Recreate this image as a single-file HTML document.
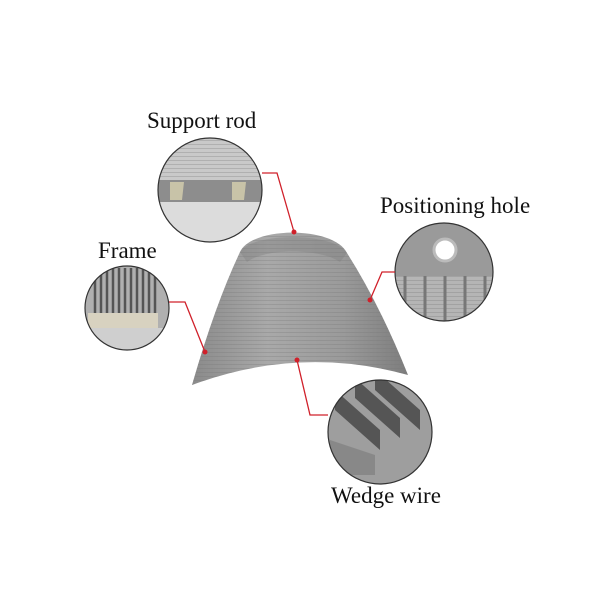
<!DOCTYPE html>
<html><head><style>html,body{margin:0;padding:0;background:#fff;}svg{display:block}
text{font-family:"Liberation Serif",serif;font-size:23px;fill:#111}</style></head><body>
<svg width="600" height="600" viewBox="0 0 600 600">
<defs>
<linearGradient id="g" x1="0" y1="0" x2="1" y2="0">
<stop offset="0" stop-color="#8a8a8a"/><stop offset="0.35" stop-color="#a9a9a9"/><stop offset="0.7" stop-color="#9a9a9a"/><stop offset="1" stop-color="#7d7d7d"/></linearGradient>
<pattern id="st" width="4" height="4" patternUnits="userSpaceOnUse"><rect width="4" height="4" fill="none"/><line x1="0" y1="0.5" x2="4" y2="0.5" stroke="#777" stroke-width="0.6" opacity="0.5"/></pattern>
<clipPath id="c1"><circle cx="210" cy="190" r="52"/></clipPath>
<clipPath id="c2"><circle cx="444" cy="272" r="49"/></clipPath>
<clipPath id="c3"><circle cx="127" cy="308" r="42"/></clipPath>
<clipPath id="c4"><circle cx="380" cy="432" r="52"/></clipPath>
</defs>
<path id="sh" d="M240,252 C252,226 334,226 347,253 Q380,305 408,375 Q300,345 192,385 Q215,305 240,252Z" fill="url(#g)"/>
<path d="M240,252 C252,226 334,226 347,253 Q380,305 408,375 Q300,345 192,385 Q215,305 240,252Z" fill="url(#st)"/>
<path d="M240,252 C252,232 334,232 347,253 L340,262 C320,248 265,248 247,262Z" fill="#7a7a7a" opacity="0.35"/>
<g clip-path="url(#c1)"><rect x="150" y="130" width="120" height="120" fill="#c9c9c9"/><rect x="150" y="140" width="120" height="40" fill="url(#st)"/>
<rect x="150" y="180" width="120" height="22" fill="#8d8d8d"/><path d="M170,182 h14 l-2,18 h-12z M232,182 h14 l-2,18 h-12z" fill="#c8c3a8"/><rect x="150" y="202" width="120" height="50" fill="#dcdcdc"/></g>
<circle cx="210" cy="190" r="52" fill="none" stroke="#333" stroke-width="1.2"/>
<g clip-path="url(#c2)"><rect x="390" y="220" width="110" height="110" fill="#9a9a9a"/><circle cx="445" cy="250" r="11" fill="#fff" stroke="#bbb" stroke-width="3"/>
<rect x="390" y="276" width="110" height="50" fill="#b5b5b5"/><rect x="390" y="276" width="110" height="50" fill="url(#st)"/>
<path d="M405,276v50M425,276v50M445,276v50M465,276v50M485,276v50" stroke="#777" stroke-width="3"/></g>
<circle cx="444" cy="272" r="49" fill="none" stroke="#333" stroke-width="1.2"/>
<g clip-path="url(#c3)"><rect x="80" y="262" width="100" height="100" fill="#b0b0b0"/>
<path d="M95,268v45M101,268v45M107,268v45M113,268v45M119,268v45M125,268v45M131,268v45M137,268v45M143,268v45M149,268v45M155,268v45" stroke="#555" stroke-width="2.5"/>
<rect x="88" y="313" width="70" height="15" fill="#d8d2c0"/><rect x="80" y="328" width="100" height="30" fill="#cfcfcf"/></g>
<circle cx="127" cy="308" r="42" fill="none" stroke="#333" stroke-width="1.2"/>
<g clip-path="url(#c4)"><rect x="325" y="378" width="110" height="110" fill="#9e9e9e"/>
<path d="M335,390 l45,40 l0,20 l-45,-40z M355,378 l45,40 l0,20 l-45,-40z M375,370 l45,40 l0,20 l-45,-40z" fill="#555"/>
<path d="M330,440 l45,15 v20 h-50z" fill="#888"/></g>
<circle cx="380" cy="432" r="52" fill="none" stroke="#333" stroke-width="1.2"/>
<g fill="none" stroke="#d0202a" stroke-width="1.3">
<path d="M262,173 H277 L294,232"/><path d="M395,272 H382 L370,300"/><path d="M169,302 H185 L205,352"/><path d="M297,360 L310,415 H328"/></g>
<g fill="#d0202a"><circle cx="294" cy="232" r="2.5"/><circle cx="370" cy="300" r="2.5"/><circle cx="205" cy="352" r="2.5"/><circle cx="297" cy="360" r="2.5"/></g>
<text x="147" y="128">Support rod</text>
<text x="380" y="213">Positioning hole</text>
<text x="98" y="258">Frame</text>
<text x="331" y="503">Wedge wire</text>
</svg></body></html>
